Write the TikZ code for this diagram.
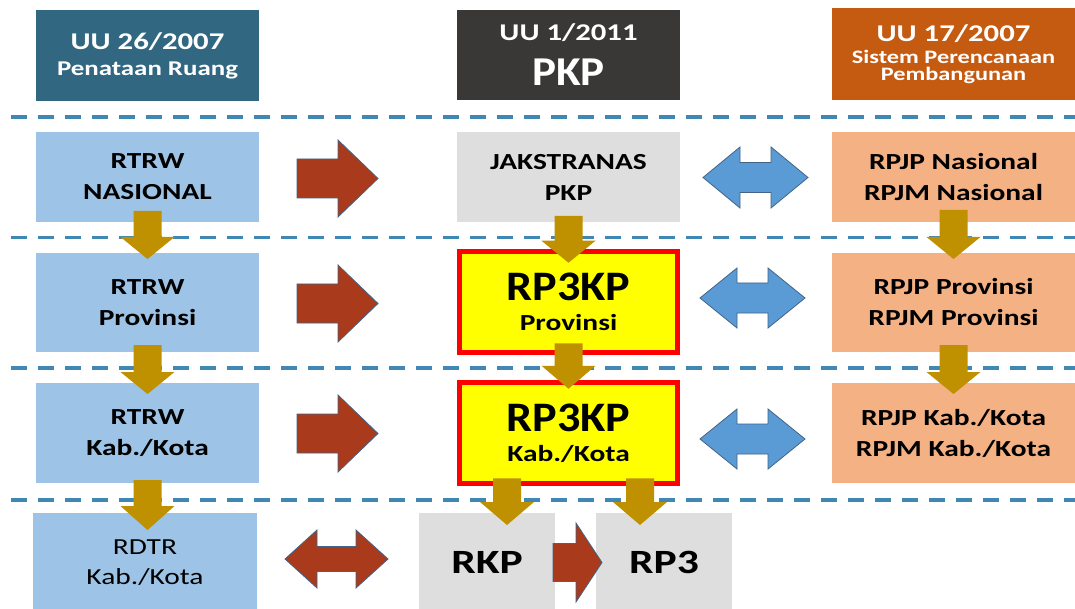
\documentclass[tikz,border=0pt]{standalone}
\usepackage{fontspec}
\setmainfont{Carlito}[FakeStretch=1.28]
\newfontfamily\widefont{Carlito}[FakeStretch=1.1]
\usetikzlibrary{calc}
\definecolor{hdrtr}{RGB}{49,103,129}
\definecolor{hdpkp}{RGB}{58,56,54}
\definecolor{hdsppn}{RGB}{197,90,17}
\definecolor{rtrwblue}{RGB}{157,195,230}
\definecolor{pkpgray}{RGB}{222,222,222}
\definecolor{rpjpsalmon}{RGB}{244,177,131}
\definecolor{golden}{RGB}{191,144,0}
\definecolor{rust}{RGB}{169,58,27}
\definecolor{skyarrow}{RGB}{91,155,213}
\definecolor{arrowline}{RGB}{65,100,135}
\definecolor{dashblue}{RGB}{65,135,180}
\definecolor{keyyellow}{RGB}{255,255,0}
\tikzset{
  box/.style={inner sep=0pt, outer sep=0pt, align=center, font=\bfseries\fontsize{23}{31}\selectfont},
  hdrbox/.style={box, text=white, minimum width=223pt, minimum height=91pt},
  rowbox/.style={box, minimum width=223pt, minimum height=#1},
  rowbox/.default=100pt,
  keybox/.style={box, fill=keyyellow, draw=red, line width=5pt, minimum width=218pt, minimum height=101.5pt,
    font=\bfseries\fontsize{23}{30}\selectfont},
  sepline/.style={dashblue, line width=3.5pt, dash pattern=on 16pt off 11pt},
  goldarr/.style={fill=golden},
  rustarr/.style={fill=rust, draw=arrowline, line width=0.8pt},
  skyarr/.style={fill=skyarrow, draw=arrowline, line width=0.8pt}
}
% style, from, to, head length, head half width, shaft half width
\newcommand\blockdown[6]{%
  \path[#1] let \p1=#2, \p2=#3 in
    (\x1-#6pt,\y1) -- (\x1+#6pt,\y1) -- (\x1+#6pt,\y2+#4pt) -- (\x1+#5pt,\y2+#4pt)
    -- (\x1,\y2) -- (\x1-#5pt,\y2+#4pt) -- (\x1-#6pt,\y2+#4pt) -- cycle;}
\newcommand\blockright[6]{%
  \path[#1] let \p1=#2, \p2=#3 in
    (\x1,\y1+#6pt) -- (\x2-#4pt,\y1+#6pt) -- (\x2-#4pt,\y1+#5pt) -- (\x2,\y1)
    -- (\x2-#4pt,\y1-#5pt) -- (\x2-#4pt,\y1-#6pt) -- (\x1,\y1-#6pt) -- cycle;}
\newcommand\blockboth[6]{%
  \path[#1] let \p1=#2, \p2=#3 in
    (\x1,\y1) -- (\x1+#4pt,\y1+#5pt) -- (\x1+#4pt,\y1+#6pt) -- (\x2-#4pt,\y1+#6pt)
    -- (\x2-#4pt,\y1+#5pt) -- (\x2,\y1) -- (\x2-#4pt,\y1-#5pt) -- (\x2-#4pt,\y1-#6pt)
    -- (\x1+#4pt,\y1-#6pt) -- (\x1+#4pt,\y1-#5pt) -- cycle;}
\begin{document}
\begin{tikzpicture}[x=1pt, y=-1pt]
\fill[white] (0,0) rectangle (1075,609);
\useasboundingbox (0,0) rectangle (1075,609);
\foreach \yy in {117,237.5,368,500}
  \draw[sepline] (11,\yy) -- (1075,\yy);

% headers
\node[hdrbox, fill=hdrtr, font=\bfseries\fontsize{21}{26}\selectfont] (uutr) at (147.5,55.5)
  {{\fontsize{24}{26}\selectfont UU 26/2007}\\Penataan Ruang};
\node[hdrbox, fill=hdpkp, minimum height=90pt, font=\bfseries\fontsize{24}{45}\selectfont] (uupkp) at (568.5,55)
  {UU 1/2011\\{\widefont\bfseries\fontsize{41}{45}\selectfont PKP}};
\node[hdrbox, fill=hdsppn, minimum width=243pt, minimum height=92pt, font=\bfseries\fontsize{19}{17}\selectfont] (uusppn) at (953.5,54)
  {{\fontsize{24}{17}\selectfont UU 17/2007}\\[5pt]Sistem Perencanaan\\Pembangunan};

% rows
\node[rowbox=90pt, fill=rtrwblue] (rtrwnas) at (147.5,177) {RTRW\\NASIONAL};
\node[rowbox=90pt, fill=pkpgray] (jakstranas) at (568.5,177) {JAKSTRANAS\\PKP};
\node[rowbox=90pt, fill=rpjpsalmon, minimum width=243pt] (rpjpnas) at (953.5,177) {RPJP Nasional\\RPJM Nasional};

\node[rowbox=99pt, fill=rtrwblue] (rtrwprov) at (147.5,302.5) {RTRW\\Provinsi};
\node[keybox] (rpkpprov) at (568.5,302) {{\widefont\bfseries\fontsize{42}{30}\selectfont RP3KP}\\Provinsi};
\node[rowbox=99pt, fill=rpjpsalmon, minimum width=243pt] (rpjpprov) at (953.5,302.5) {RPJP Provinsi\\RPJM Provinsi};

\node[rowbox, fill=rtrwblue] (rtrwkab) at (147.5,433) {RTRW\\Kab./Kota};
\node[keybox] (rpkpkab) at (568.5,433) {{\widefont\bfseries\fontsize{42}{30}\selectfont RP3KP}\\Kab./Kota};
\node[rowbox, fill=rpjpsalmon, minimum width=243pt] (rpjpkab) at (953.5,433) {RPJP Kab./Kota\\RPJM Kab./Kota};

\node[rowbox=99pt, fill=rtrwblue, minimum width=224pt, font=\fontsize{23}{30}\selectfont] (rdtr) at (145,562.5) {RDTR\\Kab./Kota};
\node[rowbox=99pt, fill=pkpgray, minimum width=136pt, font=\bfseries\fontsize{34}{40}\selectfont] (rkp) at (487,562.5) {\raisebox{-4pt}{RKP}};
\node[rowbox=99pt, fill=pkpgray, minimum width=136pt, font=\bfseries\fontsize{34}{40}\selectfont] (rpp) at (664,562.5) {\raisebox{-4pt}{RP3}};

% down arrows
\blockdown{goldarr}{($(rtrwnas.south)+(0,-11)$)}{($(rtrwprov.north)+(0,6)$)}{22}{27}{14}
\blockdown{goldarr}{($(rtrwprov.south)+(0,-7)$)}{($(rtrwkab.north)+(0,11)$)}{22}{27}{14}
\blockdown{goldarr}{($(rtrwkab.south)+(0,-3)$)}{($(rdtr.north)+(0,17)$)}{24}{27}{14}
\blockdown{goldarr}{($(jakstranas.south)+(0,-6)$)}{($(rpkpprov.north)+(0,11.5)$)}{22}{27}{14}
\blockdown{goldarr}{($(rpkpprov.south)+(0,-9.5)$)}{($(rpkpkab.north)+(0,6.5)$)}{23}{27}{14}
\blockdown{goldarr}{($(rpjpnas.south)+(0,-12)$)}{($(rpjpprov.north)+(0,6)$)}{22}{27}{14}
\blockdown{goldarr}{($(rpjpprov.south)+(0,-7)$)}{($(rpjpkab.north)+(0,11)$)}{22}{27}{14}
\blockdown{goldarr}{($(rpkpkab.south)+(-61.5,-5.5)$)}{($(rkp.north)+(0,12)$)}{23}{27}{14}
\blockdown{goldarr}{($(rpkpkab.south)+(71.5,-5.5)$)}{($(rpp.north)+(0,12)$)}{23}{27}{14}

% side arrows
\blockright{rustarr}{($(rtrwnas.east)+(38,1.5)$)}{($(jakstranas.west)+(-79,0)$)}{40}{38.5}{19.5}
\blockright{rustarr}{($(rtrwprov.east)+(38,1)$)}{($(rpkpprov.west)+(-81.5,0)$)}{40}{38.5}{19.5}
\blockright{rustarr}{($(rtrwkab.east)+(38,0.5)$)}{($(rpkpkab.west)+(-81.5,0)$)}{40}{38.5}{19.5}
\blockright{rustarr}{($(rkp.east)+(-2,0)$)}{($(rpp.west)+(6,0)$)}{26}{39.5}{19}
\blockboth{skyarr}{($(jakstranas.east)+(23,0.5)$)}{($(rpjpnas.west)+(-24,0)$)}{37}{30.5}{15}
\blockboth{skyarr}{($(rpkpprov.east)+(22.5,-4)$)}{($(rpjpprov.west)+(-27,0)$)}{37}{30}{15}
\blockboth{skyarr}{($(rpkpkab.east)+(22.5,6)$)}{($(rpjpkab.west)+(-27,0)$)}{37}{30}{15}
\blockboth{rustarr}{($(rdtr.east)+(28,-3.5)$)}{($(rkp.west)+(-31,0)$)}{32}{29}{12.5}
\end{tikzpicture}
\end{document}
